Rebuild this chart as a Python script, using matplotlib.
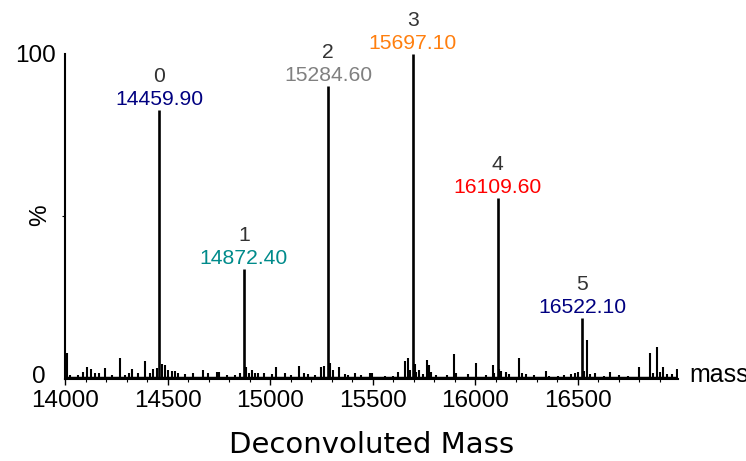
import numpy as np
import matplotlib.pyplot as plt
import matplotlib.transforms as mtransforms
from matplotlib.ticker import MultipleLocator, FixedLocator

plt.rcParams['font.family'] = ['Liberation Sans', 'DejaVu Sans']

# labelled deconvoluted peaks
peak_idx = ['0', '1', '2', '3', '4', '5']
peak_mass = [14459.90, 14872.40, 15284.60, 15697.10, 16109.60, 16522.10]
peak_int = [82.8, 33.8, 90.2, 100.0, 55.7, 18.8]
peak_col = ['#000080', '#008b8b', '#808080', '#ff7f0e', '#ff0000', '#000080']

# small unlabelled peaks along the baseline
noise_mass = [14011, 14024, 14064, 14086, 14109, 14128, 14146, 14167, 14195, 14227,
              14268, 14292, 14313, 14325, 14357, 14390, 14414, 14430, 14447, 14471,
              14487, 14503, 14520, 14536, 14552, 14584, 14625, 14674, 14698, 14739,
              14750, 14788, 14831, 14852, 14885, 14896, 14913, 14929, 14942, 14971,
              15010, 15031, 15072, 15104, 15140, 15166, 15185, 15218, 15247, 15263,
              15294, 15307, 15335, 15364, 15380, 15413, 15445, 15490, 15499, 15559,
              15600, 15624, 15656, 15672, 15684, 15705, 15713, 15729, 15745, 15765,
              15774, 15786, 15810, 15862, 15895, 15908, 15964, 16005, 16054, 16086,
              16094, 16118, 16127, 16151, 16168, 16213, 16229, 16249, 16289, 16346,
              16362, 16403, 16435, 16468, 16487, 16500, 16532, 16546, 16562, 16585,
              16630, 16660, 16703, 16744, 16801, 16854, 16866, 16890, 16903, 16919,
              16936, 16963, 16985]
noise_int = [7.9, 1.2, 1.2, 2.2, 3.8, 3.1, 1.8, 1.8, 3.5, 1.2,
             6.4, 1.2, 2.0, 3.1, 1.8, 5.6, 2.0, 3.1, 3.4, 4.6,
             4.3, 2.8, 2.6, 2.6, 1.8, 1.5, 1.8, 2.8, 1.8, 2.3,
             2.3, 1.2, 1.2, 2.0, 3.6, 2.0, 2.8, 1.8, 2.0, 2.0,
             1.5, 3.6, 2.0, 1.2, 4.0, 1.8, 1.5, 1.2, 3.6, 4.0,
             5.0, 2.8, 3.8, 1.5, 1.2, 2.0, 1.2, 1.8, 2.0, 1.0,
             1.0, 2.3, 5.6, 6.6, 2.8, 4.6, 2.3, 2.8, 1.5, 6.0,
             4.3, 2.3, 1.2, 1.2, 7.7, 1.8, 1.5, 4.9, 1.2, 4.3,
             1.8, 3.1, 2.6, 2.3, 1.5, 6.6, 2.0, 1.5, 1.2, 2.6,
             1.0, 1.0, 1.2, 1.5, 1.7, 2.2, 2.6, 12.0, 1.5, 2.0,
             1.0, 2.2, 1.2, 1.0, 3.8, 7.9, 2.0, 9.9, 2.2, 3.6,
             1.5, 1.5, 3.0]
noise_floor = 0.8

x_range = (14000, 16990)

fig = plt.figure(figsize=(7.46, 4.61), dpi=100)
ax = fig.add_axes([65 / 746, 82 / 461, 613 / 746, 325 / 461])

ax.axhline(noise_floor / 2, color='black', lw=2.5, zorder=2)
ax.vlines(noise_mass, 0, noise_int, color='black', lw=1.5)
ax.vlines(peak_mass, 0, peak_int, color='black', lw=1.9)

for i, m, h, c in zip(peak_idx, peak_mass, peak_int, peak_col):
    ax.annotate(f'{m:.2f}', (m, h), xytext=(0, 0.5), textcoords='offset points',
                ha='center', va='bottom', color=c, fontsize=15.2)
    ax.annotate(i, (m, h), xytext=(0, 17.5), textcoords='offset points',
                ha='center', va='bottom', color='#333333', fontsize=15.2)

ax.set_xlim(*x_range)
ax.set_ylim(0, 100)
for s in ['top', 'right']:
    ax.spines[s].set_visible(False)
ax.spines['left'].set_linewidth(1.5)
ax.spines['bottom'].set_linewidth(1.5)

ax.set_xticks([14000, 14500, 15000, 15500, 16000, 16500])
ax.xaxis.set_minor_locator(MultipleLocator(100))
ax.tick_params(axis='x', which='major', length=4, width=1, pad=4, labelsize=17.5)
ax.tick_params(axis='x', which='minor', length=2, width=0.8)
ax.set_yticks([0, 100])
ax.yaxis.set_minor_locator(FixedLocator([50]))
ax.tick_params(axis='y', which='major', length=0, pad=21, labelsize=17.5)
ax.tick_params(axis='y', which='minor', length=2, width=0.8)
for lab in ax.get_yticklabels():
    lab.set_horizontalalignment('center')
# lift the zero label a little off the x tick labels
zero_lab = ax.get_yticklabels()[0]
zero_lab.set_transform(zero_lab.get_transform() +
                       mtransforms.ScaledTranslation(2 / 72, 3 / 72, fig.dpi_scale_trans))

fig.text(40 / 746, 1 - 215 / 461, '%', fontsize=17.5, rotation=90,
         ha='center', va='center')
ax.text(1.018, 0.012, 'mass', transform=ax.transAxes, fontsize=18,
        ha='left', va='center')
fig.text(372 / 746, 1 - 445 / 461, 'Deconvoluted Mass', family='DejaVu Sans',
         fontsize=21, ha='center', va='center')

fig.savefig('out.png', dpi=100)
